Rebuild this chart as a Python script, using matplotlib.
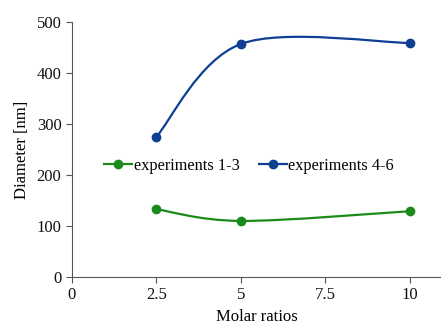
import matplotlib
matplotlib.use('Agg')
import matplotlib.pyplot as plt
from matplotlib.path import Path
from matplotlib.patches import PathPatch
from matplotlib.lines import Line2D

# data
ratios = [2.5, 5, 10]
exp_1_3 = [133, 110, 129]
exp_4_6 = [275, 457, 459]
labels = ['experiments 1-3', 'experiments 4-6']
colors = ['#1b8a1b', '#0e3f93']
xticks = [0, 2.5, 5, 7.5, 10]
yticks = [0, 100, 200, 300, 400, 500]

plt.rcParams['font.family'] = ['Liberation Serif', 'DejaVu Serif']


def smooth_path(xs, ys):
    # Excel-style smoothed line as cubic Bezier segments
    pts = list(zip(xs, ys))
    n = len(pts)
    verts = [pts[0]]
    codes = [Path.MOVETO]
    for i in range(n - 1):
        p0 = pts[max(i - 1, 0)]
        p1 = pts[i]
        p2 = pts[i + 1]
        p3 = pts[min(i + 2, n - 1)]
        c1 = (p1[0] + (p2[0] - p0[0]) / 6, p1[1] + (p2[1] - p0[1]) / 6)
        c2 = (p2[0] - (p3[0] - p1[0]) / 6, p2[1] - (p3[1] - p1[1]) / 6)
        verts += [c1, c2, p2]
        codes += [Path.CURVE4] * 3
    return Path(verts, codes)


fig = plt.figure(figsize=(4.41, 3.29), dpi=100)
ax = fig.add_axes([0.163, 0.158, 0.837, 0.775])

handles = []
for ys, lab, c in zip([exp_1_3, exp_4_6], labels, colors):
    ax.add_patch(PathPatch(smooth_path(ratios, ys), fill=False, edgecolor=c, lw=1.6))
    ax.plot(ratios, ys, 'o', color=c, ms=6, zorder=3)
    handles.append(Line2D([], [], color=c, lw=1.6, marker='o', ms=6))

ax.set_xlim(0, 10.92)
ax.set_ylim(0, 500)
ax.set_xticks(xticks)
ax.set_xticklabels(['0', '2.5', '5', '7.5', '10'])
ax.set_yticks(yticks)
for s in ['top', 'right']:
    ax.spines[s].set_visible(False)
for s in ['left', 'bottom']:
    ax.spines[s].set_color('#555555')
ax.tick_params(colors='#555555', labelcolor='#111111', labelsize=12, length=4)

ax.set_xlabel('Molar ratios', fontsize=12, labelpad=4)
ax.set_ylabel('Diameter [nm]', fontsize=12, labelpad=5)

ax.legend(handles, labels, ncol=2, frameon=False, fontsize=11.7,
          loc='center', bbox_to_anchor=(0.48, 0.435), handlelength=1.7,
          handletextpad=0.1, columnspacing=1.2)

fig.savefig('out.png', dpi=100, facecolor='white')
